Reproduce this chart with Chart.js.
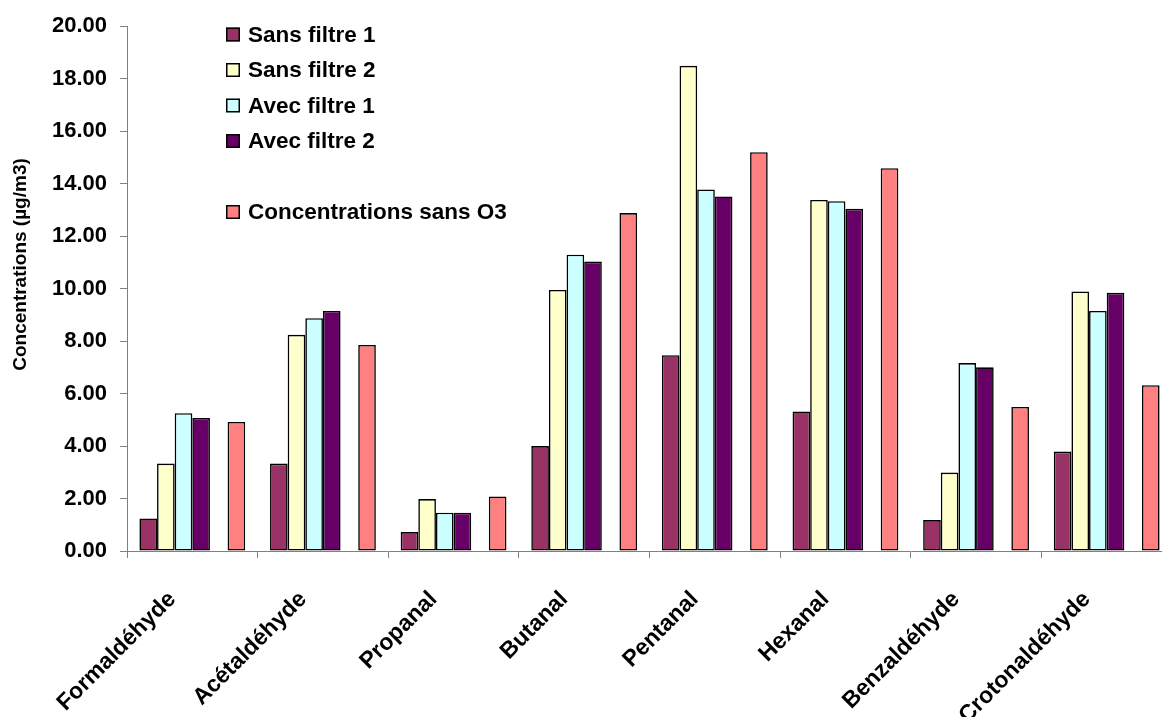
<!DOCTYPE html>
<html>
<head>
<meta charset="utf-8">
<script src="https://cdn.jsdelivr.net/npm/chart.js@4.4.1/dist/chart.umd.min.js"></script>
<style>
  html, body { margin: 0; padding: 0; background: #fff; overflow: hidden; }
  canvas { display: block; }
</style>
</head>
<body>
<canvas id="chart" width="1172" height="717"></canvas>
<script>
// Aldehyde concentrations (µg/m3) by compound and sampling condition
const categories = ['Formaldéhyde', 'Acétaldéhyde', 'Propanal', 'Butanal', 'Pentanal', 'Hexanal', 'Benzaldéhyde', 'Crotonaldéhyde'];
const sansFiltre1 = [1.24, 3.33, 0.72, 4.00, 7.46, 5.32, 1.18, 3.79];
const sansFiltre2 = [3.33, 8.24, 1.98, 9.95, 18.49, 13.38, 2.99, 9.89];
const avecFiltre1 = [5.25, 8.87, 1.46, 11.29, 13.78, 13.33, 7.16, 9.15];
const avecFiltre2 = [5.07, 9.15, 1.46, 11.03, 13.51, 13.04, 7.00, 9.84];
const spacerSeries = [null, null, null, null, null, null, null, null];
const sansO3 = [4.92, 7.85, 2.08, 12.88, 15.20, 14.59, 5.49, 6.32];
const yTickLabels = ['0.00', '2.00', '4.00', '6.00', '8.00', '10.00', '12.00', '14.00', '16.00', '18.00', '20.00'];
const yTitle = 'Concentrations (µg/m3)';

const FONT = '"Liberation Sans", Arial, sans-serif';
const AXIS_GREY = '#808080';

// Legend drawn as a column in the upper-left of the plot; the unnamed spacer series leaves a blank row
const columnLegend = {
  id: 'columnLegend',
  afterDraw(chart) {
    const ctx = chart.ctx;
    ctx.save();
    ctx.font = 'bold 22.5px ' + FONT;
    ctx.textBaseline = 'middle';
    ctx.textAlign = 'left';
    chart.data.datasets.forEach((ds, i) => {
      if (!ds.label) return;
      const cy = 34.5 + 35.5 * i;
      ctx.fillStyle = ds.backgroundColor;
      ctx.fillRect(226, cy - 7, 14, 14);
      ctx.strokeStyle = '#000';
      ctx.lineWidth = 1.5;
      ctx.strokeRect(226.75, cy - 6.25, 12.5, 12.5);
      ctx.fillStyle = '#000';
      ctx.fillText(ds.label, 248, cy + 1);
    });
    ctx.restore();
  }
};

// Vertical axis title
const axisTitle = {
  id: 'axisTitle',
  afterDraw(chart) {
    const ctx = chart.ctx;
    ctx.save();
    ctx.translate(26, 264.5);
    ctx.rotate(-Math.PI / 2);
    ctx.font = 'bold 19px ' + FONT;
    ctx.textAlign = 'center';
    ctx.textBaseline = 'alphabetic';
    ctx.fillStyle = '#000';
    ctx.fillText(yTitle, 0, 0);
    ctx.restore();
  }
};

const barStyle = (color) => ({
  backgroundColor: color,
  borderColor: '#000',
  borderWidth: 1.6,
  borderSkipped: false,
  categoryPercentage: 0.81,
  barPercentage: 1.0
});

new Chart(document.getElementById('chart'), {
  type: 'bar',
  data: {
    labels: categories,
    datasets: [
      Object.assign({ label: 'Sans filtre 1', data: sansFiltre1 }, barStyle('#993366')),
      Object.assign({ label: 'Sans filtre 2', data: sansFiltre2 }, barStyle('#FFFFCC')),
      Object.assign({ label: 'Avec filtre 1', data: avecFiltre1 }, barStyle('#CCFFFF')),
      Object.assign({ label: 'Avec filtre 2', data: avecFiltre2 }, barStyle('#660066')),
      Object.assign({ label: '', data: spacerSeries }, barStyle('#FFFFFF')),
      Object.assign({ label: 'Concentrations sans O3', data: sansO3 }, barStyle('#FF8080'))
    ]
  },
  options: {
    responsive: false,
    animation: false,
    devicePixelRatio: 1,
    layout: { padding: { top: 25, left: 0, right: 0, bottom: 0 } },
    plugins: {
      legend: { display: false },
      tooltip: { enabled: false }
    },
    scales: {
      x: {
        grid: {
          display: true,
          offset: true,
          drawOnChartArea: false,
          drawTicks: true,
          tickLength: 7,
          color: AXIS_GREY
        },
        border: { display: true, color: AXIS_GREY, width: 1 },
        ticks: {
          autoSkip: false,
          minRotation: 45,
          maxRotation: 45,
          padding: 28,
          labelOffset: -20,
          color: '#000',
          font: { family: FONT, size: 23, weight: 'bold' }
        },
        afterFit(scale) { scale.height = 166; }
      },
      y: {
        min: 0,
        max: 20,
        afterBuildTicks(scale) {
          scale.ticks = yTickLabels.map(t => ({ value: parseFloat(t) }));
        },
        grid: {
          display: true,
          drawOnChartArea: false,
          drawTicks: true,
          tickLength: 7,
          color: AXIS_GREY
        },
        border: { display: true, color: AXIS_GREY, width: 1 },
        ticks: {
          padding: 13,
          color: '#000',
          font: { family: FONT, size: 22, weight: 'bold' },
          callback: (value) => yTickLabels.find(t => parseFloat(t) === value)
        },
        afterFit(scale) { scale.width = 127; }
      }
    }
  },
  plugins: [columnLegend, axisTitle]
});
</script>
</body>
</html>
